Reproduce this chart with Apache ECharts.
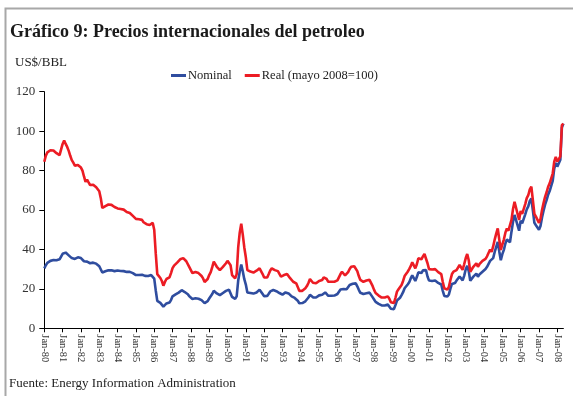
<!DOCTYPE html>
<html>
<head>
<meta charset="utf-8">
<script src="https://cdn.jsdelivr.net/npm/echarts@6/dist/echarts.min.js"></script>
<style>
  html, body { margin: 0; padding: 0; background: #fff; }
  #chart { width: 573px; height: 396px; }
</style>
</head>
<body>
<div id="chart"></div>
<script>
// Monthly crude oil prices, US$ per barrel, Jan-1980 to May-2008
const firstYear = 1980;
const lastYear = 2008;
const monthNames = ['Jan','Feb','Mar','Apr','May','Jun','Jul','Aug','Sep','Oct','Nov','Dec'];

const nominal = [
  30.4, 32.0, 33.2, 33.8, 34.2, 34.5, 34.6, 34.6, 34.5, 34.6, 35.0, 35.6, // 1980
  37.8, 38.8, 38.4, 37.8, 37.0, 36.2, 35.6, 35.3, 35.2, 35.3, 36.0, 35.8, // 1981
  35.6, 35.0, 34.0, 33.3, 33.8, 33.5, 33.0, 33.2, 33.3, 33.2, 32.8, 32.4, // 1982
  31.5, 30.5, 28.3, 28.5, 28.9, 29.2, 29.4, 29.5, 29.4, 29.2, 29.0, 28.8, // 1983
  29.3, 29.2, 29.1, 29.0, 29.0, 28.8, 28.6, 28.5, 28.6, 28.4, 28.0, 27.4, // 1984
  27.0, 26.8, 27.0, 27.3, 27.2, 27.0, 26.6, 26.4, 26.5, 26.6, 27.0, 27.0, // 1985
  25.2, 19.2, 13.9, 13.4, 12.9, 12.1, 11.0, 11.9, 12.6, 12.8, 13.1, 14.3, // 1986
  16.2, 16.7, 17.2, 17.6, 18.1, 18.6, 19.3, 19.0, 18.4, 18.0, 17.3, 16.2, // 1987
  15.7, 14.9, 14.4, 15.2, 15.6, 15.0, 14.5, 14.3, 13.7, 12.8, 12.5, 13.8, // 1988
  15.1, 15.9, 17.4, 19.0, 18.6, 17.7, 17.5, 16.8, 17.1, 17.9, 17.8, 19.0, // 1989
  20.0, 19.6, 18.8, 15.9, 15.3, 14.9, 16.2, 24.2, 28.7, 32.3, 28.9, 24.9, // 1990
  22.2, 18.2, 17.8, 17.9, 18.0, 17.6, 17.8, 18.2, 18.5, 19.6, 19.0, 17.4, // 1991
  16.3, 16.1, 16.4, 17.5, 18.7, 19.5, 19.4, 19.0, 18.8, 18.7, 17.9, 17.0, // 1992
  17.1, 17.8, 18.2, 18.1, 17.7, 16.8, 16.2, 15.6, 15.4, 15.2, 14.0, 12.7, // 1993
  12.8, 12.8, 13.1, 13.7, 14.5, 15.6, 17.0, 16.5, 15.7, 15.7, 15.6, 15.9, // 1994
  16.7, 16.9, 17.0, 17.9, 18.2, 17.4, 16.5, 16.6, 16.5, 16.3, 16.6, 17.2, // 1995
  17.4, 18.0, 19.7, 20.6, 19.9, 19.2, 19.8, 20.5, 22.0, 22.8, 22.6, 23.0, // 1996
  22.8, 21.3, 19.5, 18.0, 18.4, 17.4, 17.5, 17.8, 17.5, 18.1, 17.9, 15.8, // 1997
  14.6, 13.4, 12.7, 12.4, 12.1, 11.6, 11.7, 11.6, 12.2, 12.1, 11.2,  9.9, // 1998
   9.6,  9.7, 11.8, 14.1, 15.0, 15.5, 16.8, 18.3, 20.3, 20.7, 22.2, 23.3, // 1999
  25.3, 26.9, 27.5, 24.0, 26.0, 28.4, 27.6, 28.0, 29.4, 30.2, 29.5, 26.3, // 2000
  24.2, 25.0, 24.0, 23.8, 24.2, 23.4, 23.0, 23.4, 22.2, 19.0, 16.4, 16.0, // 2001
  16.1, 17.2, 20.1, 22.5, 23.5, 23.0, 24.2, 25.0, 26.3, 26.2, 24.3, 26.6, // 2002
  29.8, 31.7, 29.0, 24.1, 24.4, 26.2, 26.9, 27.7, 26.2, 27.3, 27.7, 28.7, // 2003
  29.5, 30.1, 31.2, 32.0, 34.2, 33.2, 35.6, 38.7, 41.3, 43.8, 39.0, 34.5, // 2004
  37.6, 39.8, 43.0, 45.0, 44.0, 43.6, 49.0, 54.0, 57.5, 56.9, 52.2, 49.5, // 2005
  54.6, 53.2, 52.3, 57.8, 60.3, 61.8, 64.6, 65.8, 59.8, 53.5, 52.3, 53.0, // 2006
  50.0, 51.9, 56.2, 59.6, 62.7, 65.0, 67.8, 69.6, 69.0, 74.8, 81.0, 83.9, // 2007
  82.0, 83.7, 85.5, 101.8, 103.8                                          // 2008
];

const real = [
  84.5, 87.6, 89.2, 89.6, 90.3, 90.6, 90.2, 89.6, 88.8, 88.0, 87.8, 88.5, // 1980
  93.5, 95.3, 93.5, 92.0, 90.0, 87.5, 85.3, 84.0, 82.5, 82.0, 82.8, 83.0, // 1981
  81.5, 80.0, 77.0, 74.3, 75.4, 74.0, 72.7, 72.5, 72.8, 72.7, 71.5, 70.5, // 1982
  69.5, 66.0, 61.0, 61.5, 62.0, 62.5, 62.8, 63.0, 62.6, 62.0, 61.5, 61.0, // 1983
  60.8, 60.6, 60.5, 60.3, 60.2, 59.6, 59.0, 58.7, 58.5, 58.0, 57.0, 56.0, // 1984
  55.5, 54.9, 55.3, 55.7, 55.0, 53.8, 53.2, 52.8, 52.6, 52.4, 53.2, 53.5, // 1985
  50.0, 38.0, 27.5, 26.5, 25.5, 24.0, 21.6, 23.5, 25.0, 25.3, 25.8, 28.0, // 1986
  30.5, 31.8, 32.5, 33.3, 34.0, 35.0, 36.0, 35.6, 34.6, 34.0, 33.3, 31.0, // 1987
  29.5, 28.0, 27.0, 28.5, 29.2, 28.0, 27.0, 26.5, 25.3, 23.5, 22.8, 25.0, // 1988
  27.0, 28.5, 31.0, 33.8, 33.0, 31.2, 30.8, 29.5, 30.0, 31.2, 31.0, 33.0, // 1989
  34.2, 33.5, 32.0, 27.0, 26.0, 25.3, 27.5, 41.0, 48.5, 53.0, 47.5, 41.0, // 1990
  36.0, 29.5, 28.7, 28.8, 29.0, 28.3, 28.6, 29.2, 29.5, 30.4, 30.0, 27.5, // 1991
  25.8, 25.4, 25.8, 27.5, 29.3, 30.4, 30.2, 29.5, 29.2, 29.0, 27.6, 26.2, // 1992
  26.0, 27.0, 27.7, 27.5, 26.8, 25.4, 24.5, 23.6, 23.2, 22.8, 21.0, 19.0, // 1993
  19.0, 19.0, 19.4, 20.3, 21.4, 23.0, 25.0, 24.3, 23.1, 23.0, 22.8, 23.2, // 1994
  24.0, 24.4, 24.5, 25.8, 26.2, 25.0, 23.6, 23.8, 23.6, 23.3, 23.6, 24.4, // 1995
  24.3, 25.2, 27.5, 28.7, 27.8, 26.8, 27.6, 28.5, 30.1, 31.2, 31.0, 31.5, // 1996
  31.0, 29.0, 26.5, 24.5, 25.0, 23.6, 23.8, 24.2, 23.8, 24.6, 24.3, 21.5, // 1997
  19.5, 17.9, 17.0, 16.6, 16.2, 15.6, 15.7, 15.6, 16.4, 16.2, 15.0, 13.2, // 1998
  12.6, 12.8, 15.5, 18.6, 19.8, 20.5, 22.0, 24.0, 26.5, 27.0, 28.7, 30.0, // 1999
  31.5, 33.5, 34.3, 30.4, 32.5, 35.5, 34.6, 35.0, 36.5, 37.7, 37.0, 33.0, // 2000
  30.0, 31.0, 29.8, 29.5, 30.0, 29.0, 28.5, 29.0, 27.5, 23.5, 20.3, 19.8, // 2001
  19.6, 21.0, 24.5, 27.5, 28.7, 28.0, 29.5, 30.5, 32.1, 32.0, 29.6, 32.5, // 2002
  35.5, 37.7, 34.5, 28.7, 29.0, 31.2, 32.0, 33.0, 31.2, 32.5, 33.0, 34.2, // 2003
  34.5, 35.2, 36.5, 37.5, 40.0, 38.8, 41.5, 45.0, 48.0, 50.7, 45.0, 39.7, // 2004
  42.5, 45.0, 48.5, 50.7, 49.5, 49.0, 55.0, 60.5, 64.2, 63.4, 58.0, 55.0, // 2005
  59.5, 58.0, 57.0, 63.0, 66.0, 67.5, 70.5, 71.8, 65.0, 58.0, 56.6, 57.4, // 2006
  53.5, 55.5, 60.0, 63.5, 66.7, 69.0, 71.8, 73.5, 72.6, 78.5, 84.5, 87.0, // 2007
  84.5, 85.8, 87.2, 103.0, 103.8                                          // 2008
];

// Month categories "Jan-80", "Feb-80", ... matching the series length
const months = [];
for (let y = firstYear; y <= lastYear; y++) {
  for (let m = 0; m < 12; m++) {
    if (months.length < nominal.length) {
      months.push(monthNames[m] + '-' + String(y).slice(2));
    }
  }
}

const yTicks = { min: 0, max: 120, interval: 20 };

const serif = 'Liberation Serif';
const chart = echarts.init(document.getElementById('chart'), null, { renderer: 'canvas' });

chart.setOption({
  backgroundColor: '#ffffff',
  animation: false,
  title: {
    text: 'Gráfico 9: Precios internacionales del petroleo',
    left: 10,
    top: 23,
    padding: 0,
    textStyle: { fontFamily: serif, fontWeight: 'bold', fontSize: 18, color: '#1a1a1a' }
  },
  legend: {
    left: 166,
    top: 64,
    itemGap: 13,
    itemWidth: 15,
    itemHeight: 3,
    icon: 'rect',
    textStyle: { fontFamily: serif, fontSize: 12.5, color: '#222', padding: [0, 0, 0, -3] },
    data: ['Nominal', 'Real (mayo 2008=100)']
  },
  graphic: [
    {
      type: 'rect',
      shape: { x: 5.5, y: 8.5, width: 600, height: 420 },
      style: { fill: 'none', stroke: '#a8a8a8', lineWidth: 2 },
      silent: true
    },
    {
      type: 'text',
      left: 15, top: 56,
      style: { text: 'US$/BBL', font: '13px "Liberation Serif"', fill: '#222' }
    },
    {
      type: 'text',
      left: 9, top: 377,
      style: { text: 'Fuente: Energy Information Administration', font: '13px "Liberation Serif"', fill: '#222' }
    }
  ],
  grid: { left: 44.3, right: 9.6, top: 91.7, bottom: 67.7, containLabel: false },
  xAxis: {
    type: 'category',
    data: months,
    boundaryGap: false,
    axisLine: { lineStyle: { color: '#000', width: 1 } },
    axisTick: {
      interval: (i) => i % 12 === 0,
      length: 4,
      lineStyle: { color: '#000' }
    },
    axisLabel: {
      interval: (i) => i % 12 === 0,
      rotate: -90,
      margin: 6,
      fontFamily: serif,
      fontSize: 10.5,
      color: '#333'
    },
    splitLine: { show: false }
  },
  yAxis: {
    type: 'value',
    min: yTicks.min,
    max: yTicks.max,
    interval: yTicks.interval,
    axisLine: { show: true, lineStyle: { color: '#000', width: 1 } },
    axisTick: { show: true, length: 5, lineStyle: { color: '#000' } },
    axisLabel: { fontFamily: serif, fontSize: 13, color: '#333', margin: 9 },
    splitLine: { show: false }
  },
  series: [
    {
      name: 'Nominal',
      type: 'line',
      data: nominal,
      showSymbol: false,
      symbol: 'none',
      color: '#2f4d9f',
      lineStyle: { color: '#2f4d9f', width: 2.6 }
    },
    {
      name: 'Real (mayo 2008=100)',
      type: 'line',
      data: real,
      showSymbol: false,
      symbol: 'none',
      color: '#ec1c24',
      lineStyle: { color: '#ec1c24', width: 2.6 }
    }
  ]
});
</script>
</body>
</html>
